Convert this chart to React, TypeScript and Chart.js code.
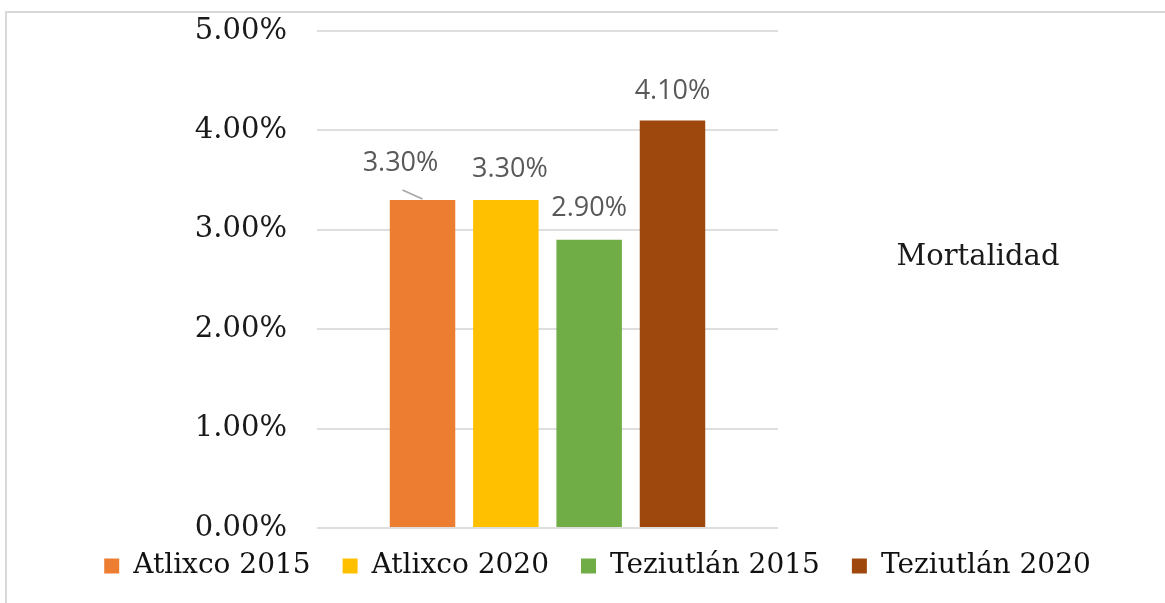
import React, { useEffect, useRef } from 'react';
import { Chart, registerables } from 'chart.js';

Chart.register(...registerables);

const categories = ['Mortalidad'];
const seriesNames = ['Atlixco 2015', 'Atlixco 2020', 'Teziutlán 2015', 'Teziutlán 2020'];
const atlixco2015 = [0.033];
const atlixco2020 = [0.033];
const teziutlan2015 = [0.029];
const teziutlan2020 = [0.041];
const seriesValues = [atlixco2015, atlixco2020, teziutlan2015, teziutlan2020];
const seriesColors = ['#ED7D31', '#FFC000', '#70AD47', '#9E480E'];
const yMin = 0;
const yMax = 0.05;
const yStep = 0.01;

const fmtPct = (v: number) => (v * 100).toFixed(2) + '%';

// label placement relative to bar top (px)
const labelOffsets = [
  { dx: -22, dy: -37, leader: true },
  { dx: 4, dy: -31, leader: false },
  { dx: 0, dy: -31, leader: false },
  { dx: 0, dy: -29, leader: false },
];

const frameAndText = {
  id: 'frameAndText',
  beforeDraw(chart: any) {
    const ctx = chart.ctx;
    ctx.save();
    ctx.fillStyle = '#ffffff';
    ctx.fillRect(0, 0, chart.width, chart.height);
    ctx.strokeStyle = '#d9d9d9';
    ctx.lineWidth = 2;
    ctx.beginPath();
    ctx.moveTo(6, chart.height + 5);
    ctx.lineTo(6, 12);
    ctx.lineTo(chart.width + 5, 12);
    ctx.stroke();
    ctx.restore();
  },
  afterLayout(chart: any) {
    const lg = chart.legend;
    if (lg) {
      lg.top -= 8;
      lg.bottom -= 8;
    }
  },
  afterDraw(chart: any) {
    const ctx = chart.ctx;
    const a = chart.chartArea;
    ctx.save();
    ctx.font = '29px "DejaVu Serif"';
    ctx.fillStyle = '#1a1a1a';
    ctx.textAlign = 'center';
    ctx.textBaseline = 'alphabetic';
    ctx.fillText(categories[0], a.right + 200, a.top + 234);
    ctx.restore();
  },
};

const valueLabels = {
  id: 'valueLabels',
  afterDatasetsDraw(chart: any) {
    const ctx = chart.ctx;
    ctx.save();
    ctx.font = '27px "Open Sans"';
    ctx.fillStyle = '#595959';
    ctx.textAlign = 'center';
    ctx.textBaseline = 'middle';
    chart.data.datasets.forEach((ds: any, i: number) => {
      const meta = chart.getDatasetMeta(i);
      meta.data.forEach((bar: any, j: number) => {
        const v = ds.data[j] as number;
        const off = labelOffsets[i];
        const lx = bar.x + off.dx;
        const ly = bar.y + off.dy;
        if (off.leader) {
          ctx.strokeStyle = '#a6a6a6';
          ctx.lineWidth = 1.5;
          ctx.beginPath();
          ctx.moveTo(bar.x, bar.y - 1);
          ctx.lineTo(lx + 2, ly + 27);
          ctx.stroke();
        }
        ctx.fillText(fmtPct(v), lx, ly);
      });
    });
    ctx.restore();
  },
};

export default function App() {
  const canvasRef = useRef<HTMLCanvasElement | null>(null);

  useEffect(() => {
    document.body.style.margin = '0';
    const canvas = canvasRef.current;
    if (!canvas) return;
    const chart = new Chart(canvas, {
      type: 'bar',
      data: {
        labels: categories,
        datasets: seriesNames.map((name, i) => ({
          label: name,
          data: seriesValues[i],
          backgroundColor: seriesColors[i],
          borderWidth: 0,
          categoryPercentage: 0.723,
          barPercentage: 0.786,
        })),
      },
      options: {
        responsive: false,
        animation: false,
        layout: { padding: { left: 30, right: 0, top: 31, bottom: 5 } },
        plugins: {
          legend: {
            position: 'bottom',
            align: 'center',
            labels: {
              font: { family: '"DejaVu Serif"', size: 28 },
              color: '#111111',
              boxWidth: 15,
              boxHeight: 15,
              padding: 32,
            },
          },
          tooltip: { enabled: false },
          title: { display: false },
        },
        scales: {
          x: {
            display: false,
            grid: { display: false },
          },
          y: {
            min: yMin,
            max: yMax,
            position: 'left',
            border: { display: false },
            grid: { color: '#dedede', lineWidth: 2, drawTicks: false },
            ticks: {
              stepSize: yStep,
              padding: 30,
              color: '#1a1a1a',
              font: { family: '"DejaVu Serif"', size: 29 },
              callback: (v: any) => fmtPct(Number(v)),
            },
            afterFit: (scale: any) => {
              scale.width = 287;
              scale.paddingTop = 0;
              scale.paddingBottom = 0;
            },
          },
          yRight: {
            type: 'linear',
            position: 'right',
            display: true,
            border: { display: false },
            grid: { display: false, drawTicks: false },
            ticks: { display: false },
            afterFit: (scale: any) => {
              scale.width = 387;
              scale.paddingTop = 0;
              scale.paddingBottom = 0;
            },
          },
        },
      },
      plugins: [frameAndText, valueLabels],
    });
    return () => chart.destroy();
  }, []);

  return (
    <div style={{ width: 1165, height: 603 }}>
      <canvas ref={canvasRef} width={1165} height={603} style={{ display: 'block' }} />
    </div>
  );
}
